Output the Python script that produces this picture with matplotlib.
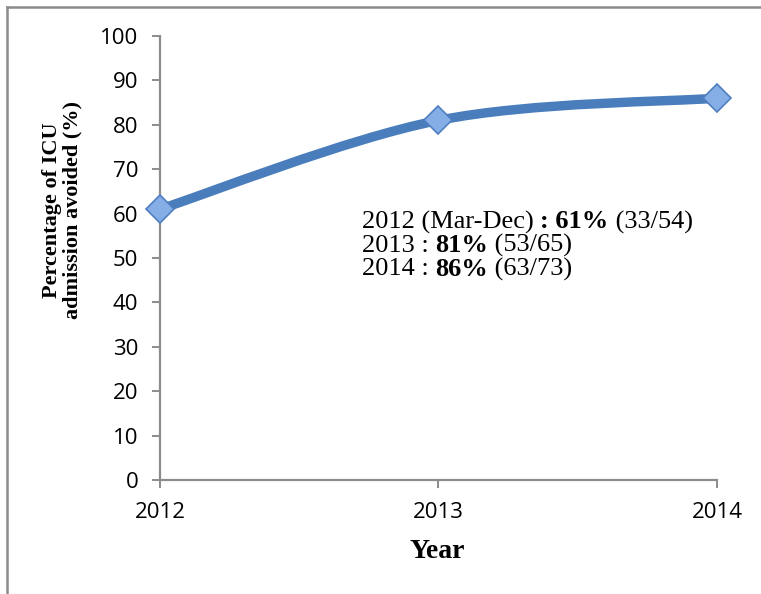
#!/usr/bin/env python3
"""ICU admission avoided by year, smoothed line chart."""

import matplotlib

matplotlib.use("Agg")
import matplotlib.pyplot as plt
from matplotlib.lines import Line2D
from matplotlib.patches import PathPatch
from matplotlib.path import Path
import numpy as np

years = [2012, 2013, 2014]
pct_avoided = [61, 81, 86]
yticks = list(range(0, 101, 10))

# annotation lines: (text, bold) pieces
notes = [
    [("2012 (Mar-Dec) ", False), (": 61%", True), (" (33/54)", False)],
    [("2013 : ", False), ("81%", True), (" (53/65)", False)],
    [("2014 : ", False), ("86%", True), (" (63/73)", False)],
]

LINE = "#4a7dbb"
MARK = "#86aee6"
GRAY = "#8c8c8c"


def smooth_path(x, y):
    # Catmull-Rom through the points, as cubic Bezier segments
    pts = np.column_stack([x, y]).astype(float)
    ext = np.vstack([pts[0], pts, pts[-1]])
    verts = [pts[0]]
    codes = [Path.MOVETO]
    for i in range(len(pts) - 1):
        p0, p1, p2, p3 = ext[i], ext[i + 1], ext[i + 2], ext[i + 3]
        verts += [p1 + (p2 - p0) / 6, p2 - (p3 - p1) / 6, p2]
        codes += [Path.CURVE4] * 3
    return Path(verts, codes)


fig = plt.figure(figsize=(7.61, 5.94), dpi=100)
ax = fig.add_axes([0.2102, 0.1919, 0.7320, 0.7475])

ax.add_patch(PathPatch(smooth_path(years, pct_avoided), fill=False, edgecolor=LINE,
                       lw=6.8, capstyle="round", zorder=3))
ax.plot(years, pct_avoided, ls="none", marker="D", ms=14, mfc=MARK, mec="#4f7fc0",
        mew=1.2, zorder=4, clip_on=False)

ax.set_xlim(2012, 2014)
ax.set_ylim(0, 100)
ax.set_xticks(years)
ax.set_yticks(yticks)
for s in ["top", "right"]:
    ax.spines[s].set_visible(False)
for s in ["left", "bottom"]:
    ax.spines[s].set_color(GRAY)
    ax.spines[s].set_linewidth(1.6)
ax.tick_params(colors=GRAY, width=1.4, length=5.5, labelcolor="black", labelsize=16,
               pad=10)
for lab in ax.get_xticklabels() + ax.get_yticklabels():
    lab.set_fontfamily("Open Sans")

fig.text(0.574, 0.071, "Year", family="Liberation Serif", weight="bold", fontsize=20,
         ha="center", va="center")
fig.text(0.082, 0.6465, "Percentage of ICU\nadmission avoided (%)", family="Liberation Serif",
         weight="bold", fontsize=16, rotation=90, ha="center", va="center",
         multialignment="center", linespacing=1.0)

# mixed regular/bold annotation
renderer = fig.canvas.get_renderer()
x0, y0, dy = 362, 594 - 222, 23.5
for k, line in enumerate(notes):
    xp = x0
    for txt, bold in line:
        t = fig.text(xp / 761, (y0 - k * dy) / 594, txt, family="Liberation Serif",
                     weight="bold" if bold else "normal", fontsize=19, va="center")
        xp += t.get_window_extent(renderer).width

# outer frame (left and top edges only)
fig.add_artist(Line2D([7 / 761, 7 / 761], [0, 1 - 7 / 594], color=GRAY, lw=1.8))
fig.add_artist(Line2D([7 / 761, 1], [1 - 7 / 594, 1 - 7 / 594], color=GRAY, lw=1.8))

fig.savefig("out.png", dpi=100)
